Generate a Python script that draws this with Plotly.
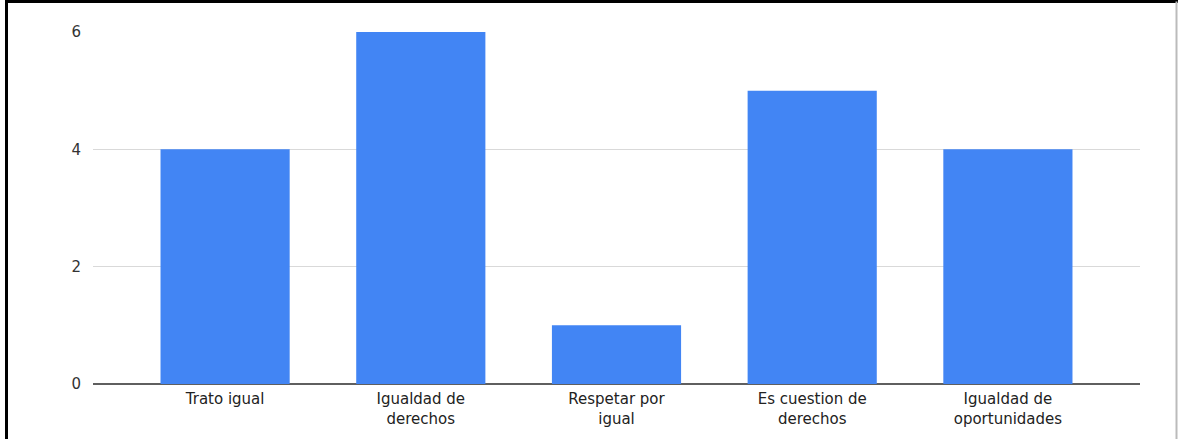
import plotly.graph_objects as go

categories = ["Trato igual", "Igualdad de<br>derechos", "Respetar por<br>igual",
              "Es cuestion de<br>derechos", "Igualdad de<br>oportunidades"]
values = [4, 6, 1, 5, 4]
y_ticks = [0, 2, 4, 6]

fig = go.Figure(go.Bar(x=list(range(len(categories))), y=values,
                       marker=dict(color="#4285F4", line=dict(width=0)),
                       width=0.66))

W, H = 1178, 439
L, R, T, B = 93, 38, 32, 55
pw = W - L - R
ph = H - T - B

def px(p):
    return (p - L) / pw

def py(q):
    return (H - B - q) / ph

fig.update_layout(
    width=W, height=H,
    margin=dict(l=L, r=R, t=T, b=B),
    paper_bgcolor="white", plot_bgcolor="white",
    font=dict(family="DejaVu Sans, Liberation Sans, Arial, sans-serif", size=15, color="#222222"),
    showlegend=False,
    xaxis=dict(tickmode="array", tickvals=list(range(len(categories))), ticktext=categories,
               range=[-0.675, 4.675], showgrid=False, zeroline=False, showline=False,
               ticks="outside", ticklen=1, tickcolor="rgba(0,0,0,0)", fixedrange=True),
    yaxis=dict(range=[0, 6], tickvals=y_ticks, showgrid=True, gridcolor="#d9d9d9",
               gridwidth=1, zeroline=True, zerolinecolor="#5f5f5f", zerolinewidth=2,
               ticks="outside", ticklen=8, tickcolor="rgba(0,0,0,0)", showline=False,
               tickfont=dict(color="#333333"), fixedrange=True),
    shapes=[
        dict(type="line", xref="paper", yref="paper", x0=px(6.5), x1=px(6.5),
             y0=py(H + 5), y1=py(1.5), line=dict(color="black", width=3)),
        dict(type="line", xref="paper", yref="paper", x0=px(5), x1=px(W + 5),
             y0=py(1.5), y1=py(1.5), line=dict(color="black", width=3)),
        dict(type="line", xref="paper", yref="paper", x0=px(1176.5), x1=px(1176.5),
             y0=py(H + 5), y1=py(1.5), line=dict(color="#bbbbbb", width=2)),
    ],
)

fig.write_html("out.html", config={"displayModeBar": False},
               post_script="document.body.style.margin='0';document.body.style.padding='0';")
